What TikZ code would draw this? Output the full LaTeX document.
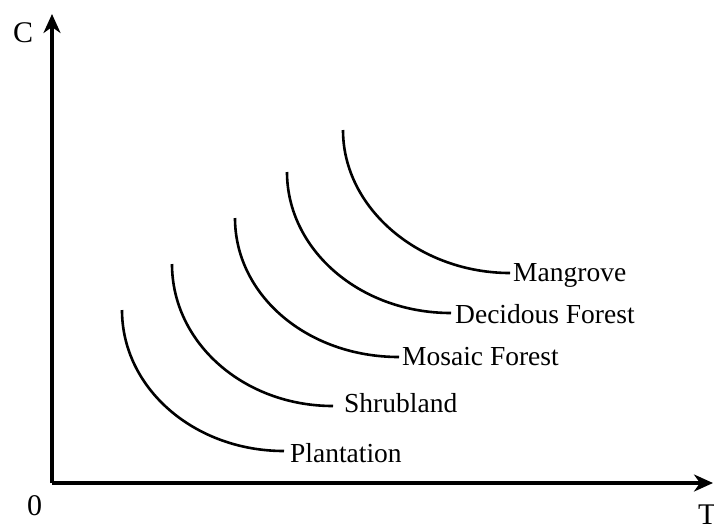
\documentclass[tikz,border=0pt]{standalone}
\usepackage{fontspec}
\setmainfont{Liberation Serif}
\usetikzlibrary{arrows.meta}
\begin{document}
\begin{tikzpicture}[x=1pt,y=-1pt,
  axisline/.style={line width=3.4pt,-{Stealth[length=19pt,width=17pt,inset=6pt]}},
  curveline/.style={line width=2.6pt},
  lbl/.style={inner sep=0pt,anchor=base west,font=\fontsize{27.5}{32}\selectfont},
  axlbl/.style={lbl,font=\fontsize{30}{34}\selectfont}]
\useasboundingbox (0,0) rectangle (714,523);
% axes
\coordinate (O) at (52,483);
\coordinate (Ytop) at (52,14);
\coordinate (Xend) at (713,483);
\draw[axisline] (O) -- (Ytop);
\draw[axisline] (O) -- (Xend);
\node[axlbl] (C) at (13,42) {C};
\node[axlbl] (zero) at (27,515) {0};
\node[axlbl] (T) at (698,524) {T};
% labels
\node[lbl] (plant) at (290,462) {Plantation};
\node[lbl] (shrub) at (344,412) {Shrubland};
\node[lbl] (mosaic) at (402,365) {Mosaic Forest};
\node[lbl] (decid) at (455,323) {Decidous Forest};
\node[lbl] (mang) at (513,281) {Mangrove};
% curve ends
\coordinate (p1) at (122,310); \coordinate (p2) at (284,451);
\coordinate (s1) at (172,264); \coordinate (s2) at (333,406);
\coordinate (m1) at (235,218); \coordinate (m2) at (399,357);
\coordinate (d1) at (287,172); \coordinate (d2) at (451,313);
\coordinate (g1) at (343,130); \coordinate (g2) at (510,273);
\draw[curveline] (p1) .. controls (122,388) and (194,451) .. (p2);
\draw[curveline] (s1) .. controls (172,343) and (244,406) .. (s2);
\draw[curveline] (m1) .. controls (235,295) and (307,357) .. (m2);
\draw[curveline] (d1) .. controls (287,249) and (359,313) .. (d2);
\draw[curveline] (g1) .. controls (343,209) and (420,273) .. (g2);
\end{tikzpicture}
\end{document}
